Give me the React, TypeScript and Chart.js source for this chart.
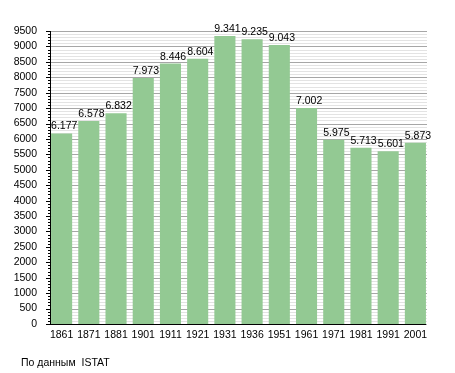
import React, { useEffect, useRef } from "react";
import { Chart, registerables } from "chart.js";

Chart.register(...registerables);

// ---- Data ----
const years = ["1861", "1871", "1881", "1901", "1911", "1921", "1931", "1936", "1951", "1961", "1971", "1981", "1991", "2001"];
const population = [6177, 6578, 6832, 7973, 8446, 8604, 9341, 9235, 9043, 7002, 5975, 5713, 5601, 5873];
const yMax = 9500;
const yMajorStep = 500;
const yMinorStep = 100;
const sourceNote = "По данным  ISTAT";

const FONT = "'Liberation Sans', Arial, Helvetica, sans-serif";
const BAR_COLOR = "#93c993";

function formatThousands(n: number): string {
  const s = String(Math.round(n));
  return s.replace(/\B(?=(\d{3})+(?!\d))/g, ".");
}

const AXIS_X = 50;
const GRID_RIGHT = 427;

const customAxesPlugin = {
  id: "customAxes",
  beforeDatasetsDraw(chart: any) {
    const { ctx, scales } = chart;
    const y = scales.y;
    ctx.save();
    ctx.lineWidth = 1;
    for (let v = 0; v <= yMax; v += yMinorStep) {
      const major = v % yMajorStep === 0;
      const py = Math.round(y.getPixelForValue(v)) + 0.5;
      ctx.strokeStyle = major ? "#a6a6a6" : "#e3e3e3";
      ctx.beginPath();
      ctx.moveTo(AXIS_X, py);
      ctx.lineTo(GRID_RIGHT, py);
      ctx.stroke();
    }
    ctx.restore();
  },
  afterDatasetsDraw(chart: any) {
    const { ctx, scales } = chart;
    const y = scales.y;
    ctx.save();
    ctx.strokeStyle = "#000";
    ctx.lineWidth = 1;
    const top = Math.round(y.getPixelForValue(yMax));
    const bottom = Math.round(y.getPixelForValue(0));
    // tick marks
    for (let v = 0; v <= yMax; v += yMinorStep) {
      const major = v % yMajorStep === 0;
      const py = Math.round(y.getPixelForValue(v)) + 0.5;
      ctx.beginPath();
      ctx.moveTo(AXIS_X - (major ? 4 : 2), py);
      ctx.lineTo(AXIS_X + 1, py);
      ctx.stroke();
    }
    // vertical axis
    ctx.beginPath();
    ctx.moveTo(AXIS_X + 0.5, top);
    ctx.lineTo(AXIS_X + 0.5, bottom + 1);
    ctx.stroke();
    // horizontal axis
    ctx.beginPath();
    ctx.moveTo(AXIS_X, bottom + 0.5);
    ctx.lineTo(GRID_RIGHT - 1, bottom + 0.5);
    ctx.stroke();

    // value labels
    const meta = chart.getDatasetMeta(0);
    ctx.fillStyle = "#000";
    ctx.font = `10.5px ${FONT}`;
    ctx.textAlign = "left";
    ctx.textBaseline = "alphabetic";
    meta.data.forEach((bar: any, i: number) => {
      const w = bar.width;
      const left = bar.x - w / 2;
      ctx.fillText(formatThousands(population[i]), left, bar.y - 4);
    });
    ctx.restore();
  },
};

export default function App() {
  const canvasRef = useRef<HTMLCanvasElement | null>(null);

  useEffect(() => {
    const canvas = canvasRef.current;
    if (!canvas) return;
    const chart = new Chart(canvas, {
      type: "bar",
      data: {
        labels: years,
        datasets: [
          {
            data: population,
            backgroundColor: BAR_COLOR,
            borderWidth: 0,
            categoryPercentage: 1,
            barPercentage: 0.775,
          },
        ],
      },
      options: {
        responsive: false,
        animation: false,
        events: [],
        layout: { padding: { top: 31, right: 26, left: 0, bottom: 0 } },
        plugins: {
          legend: { display: false },
          tooltip: { enabled: false },
          title: { display: false },
        },
        scales: {
          x: {
            type: "category",
            offset: true,
            grid: { display: false, drawTicks: false },
            border: { display: false },
            ticks: {
              color: "#000",
              font: { family: FONT, size: 10.5 },
              padding: 5,
              maxRotation: 0,
              autoSkip: false,
            },
            afterFit: (scale: any) => {
              scale.height = 49;
            },
          },
          y: {
            min: 0,
            max: yMax,
            grid: { display: false, drawTicks: false },
            border: { display: false },
            ticks: {
              stepSize: yMajorStep,
              autoSkip: false,
              color: "#000",
              font: { family: FONT, size: 10.5 },
              padding: 11,
              callback: (v: any) => String(v),
            },
            afterFit: (scale: any) => {
              scale.width = 48;
            },
          },
        },
      },
      plugins: [customAxesPlugin],
    });
    return () => chart.destroy();
  }, []);

  return (
    <div style={{ position: "absolute", left: 0, top: 0, width: 455, height: 373, background: "#fff" }}>
      <canvas ref={canvasRef} width={455} height={373} style={{ display: "block" }} />
      <div
        style={{
          position: "absolute",
          left: 21,
          top: 355,
          fontFamily: FONT,
          fontSize: 10.5,
          color: "#000",
          whiteSpace: "pre",
          lineHeight: "14px",
        }}
      >
        {sourceNote}
      </div>
    </div>
  );
}
